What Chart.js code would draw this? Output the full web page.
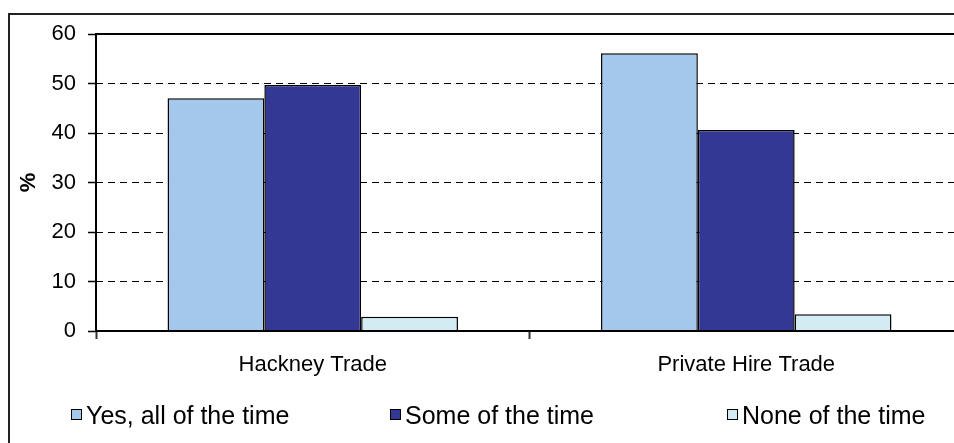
<!DOCTYPE html>
<html><head><meta charset="utf-8">
<script src="https://cdn.jsdelivr.net/npm/chart.js@4/dist/chart.umd.min.js"></script>
<style>
html,body{margin:0;padding:0;background:#fff;overflow:hidden;width:954px;height:443px;}
#frame{position:absolute;left:8px;top:13px;width:1000px;height:500px;border:2px solid #222;box-sizing:border-box;}
#wrap{position:absolute;left:0;top:0;width:1000px;height:450px;}
</style></head><body>
<div id="frame"></div>
<div id="wrap"><canvas id="c" width="1000" height="450"></canvas></div>
<script>
const categories = ['Hackney Trade', 'Private Hire Trade'];
const seriesNames = ['Yes, all of the time', 'Some of the time', 'None of the time'];
const yesAllOfTheTime = [47.0, 56.1];
const someOfTheTime = [49.7, 40.6];
const noneOfTheTime = [2.9, 3.4];
const yTickValues = [0, 10, 20, 30, 40, 50, 60];
const seriesColors = ['#A4C8EC', '#333894', '#D3ECF3'];

const FONT = '"Liberation Sans", Arial, sans-serif';

const frameLines = {
  id: 'frameLines',
  afterDatasetsDraw(chart) {
    const {ctx, chartArea: a} = chart;
    ctx.save();
    ctx.strokeStyle = '#000';
    ctx.lineWidth = 2;
    ctx.strokeRect(a.left, a.top, a.right - a.left, a.bottom - a.top);
    ctx.restore();
  }
};

const slotLegend = {
  id: 'slotLegend',
  afterDraw(chart, args, o) {
    const ctx = chart.ctx;
    ctx.save();
    ctx.font = o.font;
    ctx.textBaseline = 'alphabetic';
    ctx.textAlign = 'left';
    chart.data.datasets.forEach((ds, i) => {
      const x = o.lefts[i];
      ctx.fillStyle = ds.backgroundColor;
      ctx.fillRect(x, o.boxTop, o.box, o.box);
      ctx.strokeStyle = '#000';
      ctx.lineWidth = 1;
      ctx.strokeRect(x + 0.5, o.boxTop + 0.5, o.box - 1, o.box - 1);
      ctx.fillStyle = '#000';
      ctx.fillText(ds.label, x + o.box + o.gap, o.baseline);
    });
    ctx.restore();
  }
};

new Chart(document.getElementById('c'), {
  type: 'bar',
  data: {
    labels: categories,
    datasets: [
      {label: seriesNames[0], data: yesAllOfTheTime, backgroundColor: seriesColors[0]},
      {label: seriesNames[1], data: someOfTheTime, backgroundColor: seriesColors[1]},
      {label: seriesNames[2], data: noneOfTheTime, backgroundColor: seriesColors[2]}
    ].map(d => Object.assign(d, {borderColor: '#000', borderWidth: 1.5, categoryPercentage: 0.67, barPercentage: 1.0}))
  },
  options: {
    responsive: false,
    animation: false,
    devicePixelRatio: 1,
    layout: {padding: {left: 0, top: 34, right: 37, bottom: 0}},
    plugins: {
      legend: {display: false},
      tooltip: {enabled: false},
      slotLegend: {font: '25px ' + FONT, lefts: [71, 390, 727], box: 11, boxTop: 409, gap: 4, baseline: 424}
    },
    scales: {
      x: {
        grid: {display: true, offset: true, drawOnChartArea: false, drawTicks: true, tickLength: 8, tickColor: '#333', tickWidth: 2},
        border: {display: false},
        ticks: {color: '#000', font: {family: FONT, size: 22}, padding: 13, maxRotation: 0},
        afterFit(s) { s.height = 119; }
      },
      y: {
        min: 0, max: 60,
        afterBuildTicks(s) { s.ticks = yTickValues.map(v => ({value: v})); },
        grid: {
          color: c => (c.tick && (c.tick.value === 0 || c.tick.value === 60)) ? 'rgba(0,0,0,0)' : '#000',
          lineWidth: 1, tickLength: 8, tickColor: '#000', tickWidth: 1.5, tickBorderDash: []
        },
        border: {display: false, dash: [7, 5]},
        ticks: {color: '#000', font: {family: FONT, size: 22}, padding: 12},
        title: {display: true, text: '%', color: '#000', font: {family: FONT, size: 22, weight: 'bold'}, padding: {top: 16, bottom: 0}},
        afterFit(s) { s.width = 96; }
      }
    }
  },
  plugins: [frameLines, slotLegend]
});
</script>
</body></html>
